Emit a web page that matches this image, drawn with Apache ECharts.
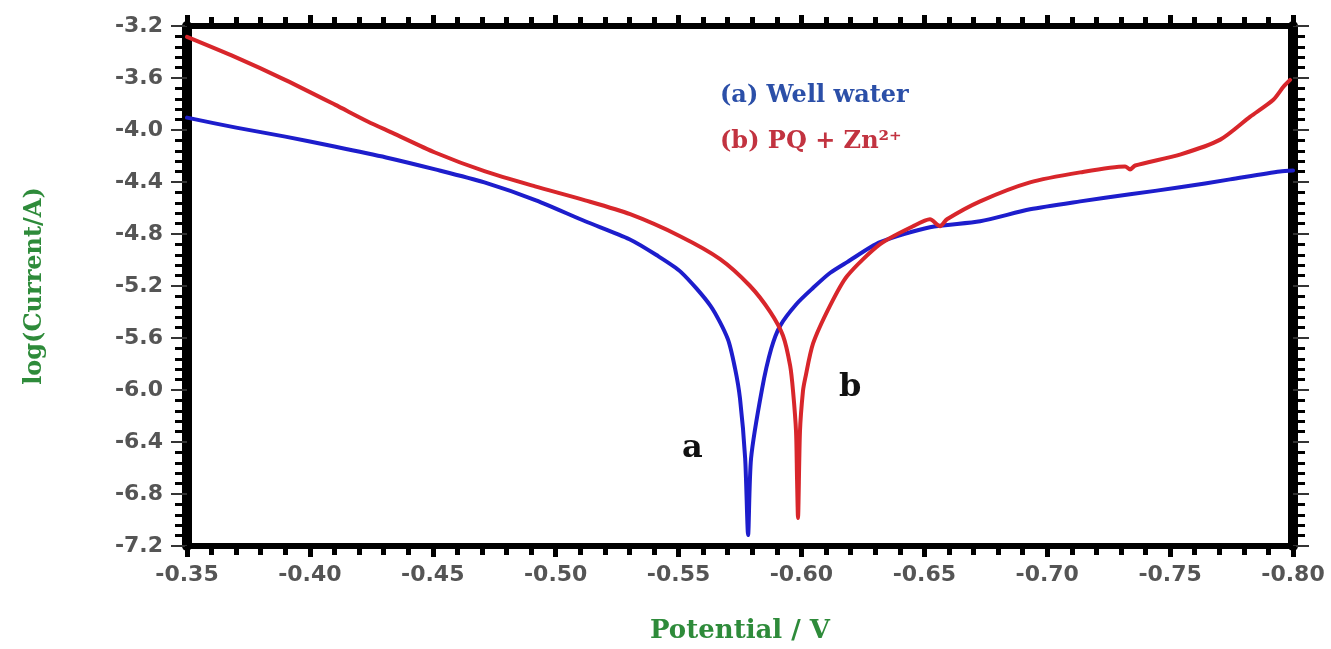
<!DOCTYPE html>
<html>
<head>
<meta charset="utf-8">
<script src="https://cdn.jsdelivr.net/npm/echarts@6/dist/echarts.min.js"></script>
<style>
html,body{margin:0;padding:0;background:#fff;}
#chart{width:1331px;height:649px;}
</style>
</head>
<body>
<div id="chart"></div>
<script>
// Potential (V) and log(Current/A)
var potentialA = [-0.350,-0.370,-0.390,-0.410,-0.431,-0.451,-0.471,-0.492,-0.512,-0.530,-0.541,-0.551,-0.563,-0.570,-0.573,-0.575,-0.5771,-0.5783,-0.5795,-0.5840,-0.5877,-0.5913,-0.598,-0.6047,-0.6116,-0.6186,-0.6320,-0.6523,-0.6727,-0.6930,-0.7134,-0.7337,-0.7540,-0.7744,-0.7947,-0.800];
var currentA   = [-3.905,-3.982,-4.051,-4.127,-4.211,-4.303,-4.403,-4.541,-4.702,-4.840,-4.962,-5.093,-5.353,-5.606,-5.836,-6.066,-6.526,-7.116,-6.526,-5.989,-5.683,-5.507,-5.338,-5.215,-5.100,-5.016,-4.863,-4.748,-4.702,-4.610,-4.549,-4.495,-4.441,-4.380,-4.319,-4.311];

var potentialB = [-0.350,-0.3695,-0.3899,-0.4102,-0.4237,-0.4334,-0.4509,-0.4713,-0.4916,-0.5120,-0.5303,-0.5506,-0.5669,-0.5791,-0.5873,-0.5925,-0.5954,-0.5966,-0.5978,-0.5982,-0.5986,-0.5994,-0.6006,-0.6015,-0.6047,-0.6116,-0.6186,-0.6320,-0.6454,-0.6523,-0.6564,-0.6592,-0.6727,-0.6930,-0.7134,-0.7317,-0.7337,-0.7358,-0.7540,-0.7704,-0.7826,-0.7920,-0.7961,-0.7988];
var currentB   = [-3.284,-3.438,-3.614,-3.805,-3.936,-4.020,-4.173,-4.319,-4.434,-4.541,-4.648,-4.817,-4.993,-5.200,-5.399,-5.583,-5.813,-6.012,-6.319,-6.679,-6.985,-6.319,-6.012,-5.913,-5.644,-5.353,-5.123,-4.878,-4.740,-4.687,-4.740,-4.687,-4.549,-4.403,-4.326,-4.280,-4.303,-4.273,-4.189,-4.074,-3.897,-3.767,-3.667,-3.614];

var seriesNames = ['(a) Well water', '(b) PQ + Zn\u00B2\u207A'];
var curveLabels = ['a', 'b'];
var xTitle = 'Potential / V';
var yTitle = 'log(Current/A)';

function pairs(xs, ys){ return xs.map(function(x,i){ return [x, ys[i]]; }); }

var chart = echarts.init(document.getElementById('chart'), null, {renderer:'canvas'});

var labelFont = {color:'#555', fontFamily:'DejaVu Sans', fontWeight:'bold', fontSize:22};

function xAx(pos){
  var top = pos === 'top';
  return {
    type:'value', position:pos, min:-0.8, max:-0.35, interval:0.05, inverse:true,
    axisLine:{show:true, onZero:false, lineStyle:{color:'#000', width:6}},
    axisTick:{show:true, inside:false, length:11, lineStyle:{color:'#000', width:5}},
    minorTick:{show:true, splitNumber:5, length:9, lineStyle:{color:'#000', width:5}},
    splitLine:{show:false},
    axisLabel: top ? {show:false} : Object.assign({margin:18, formatter:function(v){return v.toFixed(2);}}, labelFont),
    name: top ? '' : xTitle,
    nameLocation:'middle', nameGap:72,
    nameTextStyle:{color:'#2e8b3a', fontFamily:'DejaVu Serif', fontWeight:'bold', fontSize:26}
  };
}
function yAx(pos){
  var right = pos === 'right';
  return {
    type:'value', position:pos, min:-7.2, max:-3.2, interval:0.4,
    axisLine:{show:true, onZero:false, lineStyle:{color:'#000', width:10}},
    axisTick:{show:true, inside:false, length:16, lineStyle:{color:'#333', width:2}},
    minorTick:{show:true, splitNumber:5, length:12, lineStyle:{color:'#000', width:3}},
    splitLine:{show:false},
    axisLabel: right ? {show:false} : Object.assign({margin:24, formatter:function(v){return v.toFixed(1);}}, labelFont),
    name: right ? '' : yTitle,
    nameLocation:'middle', nameGap:140,
    nameTextStyle:{color:'#2e8b3a', fontFamily:'DejaVu Serif', fontWeight:'bold', fontSize:24}
  };
}

chart.setOption({
  animation:false,
  backgroundColor:'#fff',
  grid:{left:187, right:38, top:26, bottom:101},
  xAxis:[xAx('bottom'), xAx('top')],
  yAxis:[yAx('left'), yAx('right')],
  series:[
    {name:seriesNames[0], type:'line', xAxisIndex:0, yAxisIndex:0, data:pairs(potentialA,currentA),
     showSymbol:false, smooth:0.25, lineStyle:{color:'#1d1dcc', width:4, join:'round', cap:'round'}, z:3},
    {name:seriesNames[1], type:'line', xAxisIndex:0, yAxisIndex:0, data:pairs(potentialB,currentB),
     showSymbol:false, smooth:0.25, lineStyle:{color:'#d8262b', width:4, join:'round', cap:'round'}, z:4}
  ],
  graphic:[
    {type:'text', left:720, top:84, style:{text:seriesNames[0], fill:'#2b4fa8', font:'bold 24px "DejaVu Serif"'}},
    {type:'text', left:720, top:130, style:{text:seriesNames[1], fill:'#c23340', font:'bold 24px "DejaVu Serif"'}},
    {type:'text', left:682, top:433, style:{text:curveLabels[0], fill:'#111', font:'bold 32px "DejaVu Serif"'}},
    {type:'text', left:839, top:372, style:{text:curveLabels[1], fill:'#111', font:'bold 32px "DejaVu Serif"'}}
  ]
});
</script>
</body>
</html>
